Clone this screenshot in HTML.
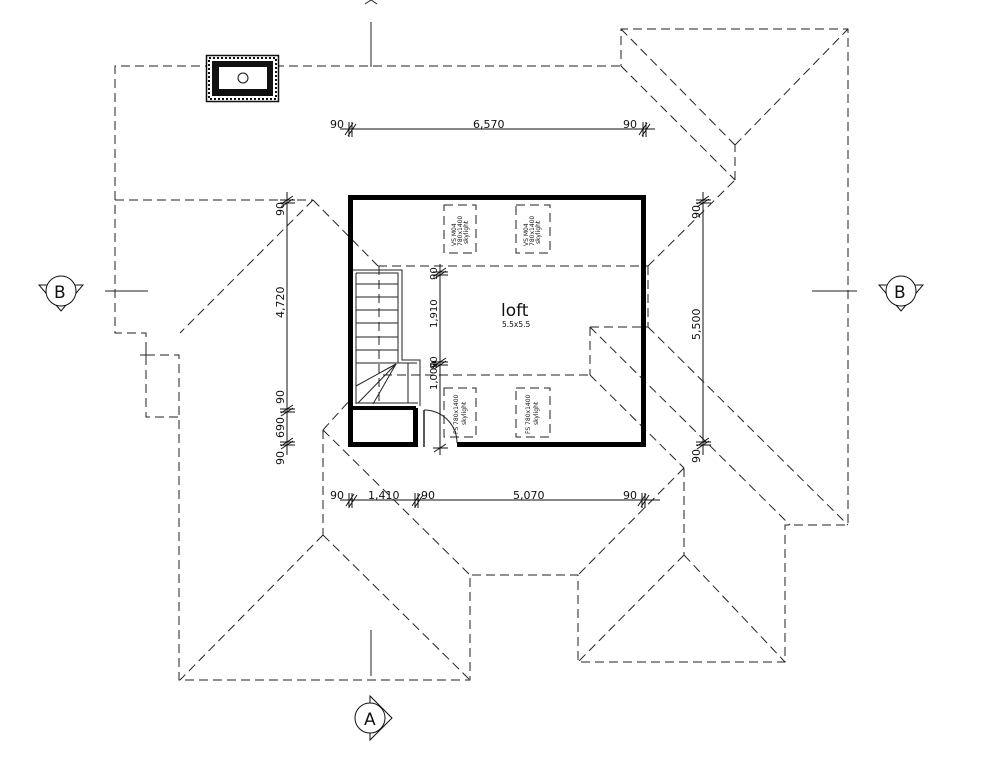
<!DOCTYPE html>
<html><head><meta charset="utf-8"><style>
html,body{margin:0;padding:0;background:#fff;}
svg{display:block;}
text{font-family:"DejaVu Sans","Liberation Sans",sans-serif;fill:#111;}
</style></head><body>
<svg width="994" height="768" viewBox="0 0 994 768" xmlns="http://www.w3.org/2000/svg">
<g fill="none" stroke="#222" stroke-width="1" stroke-dasharray="9 5">
<!-- top / left outline -->
<polyline points="620,66 115,66 115,333 146,333 146,417 179,417"/>
<polyline points="146,355 179,355 179,680 470,680 470,575 578,575 578,662 785,662 785,525 848,525 848,29 621,29 621,66"/>
<line x1="115" y1="200" x2="313" y2="200"/>
<line x1="313" y1="200" x2="180" y2="333"/>
<line x1="313" y1="200" x2="378" y2="266"/>
<line x1="378" y1="266" x2="648" y2="266"/>
<line x1="648" y1="266" x2="648" y2="327"/>
<line x1="590" y1="327" x2="648" y2="327"/>
<line x1="590" y1="327" x2="590" y2="375"/>
<line x1="383" y1="375" x2="590" y2="375"/>
<!-- right wings -->
<line x1="648" y1="266" x2="735" y2="180"/>
<line x1="735" y1="180" x2="735" y2="145"/>
<line x1="735" y1="145" x2="848" y2="29"/>
<line x1="621" y1="29" x2="735" y2="145"/>
<line x1="621" y1="66" x2="735" y2="180"/>
<line x1="648" y1="327" x2="848" y2="525"/>
<line x1="590" y1="327" x2="790" y2="525"/>
<line x1="590" y1="375" x2="684" y2="468"/>
<line x1="684" y1="468" x2="684" y2="555"/>
<line x1="684" y1="468" x2="578" y2="575"/>
<line x1="684" y1="555" x2="578" y2="662"/>
<line x1="684" y1="555" x2="785" y2="662"/>
<!-- left lower wing -->
<line x1="323" y1="430" x2="323" y2="535"/>
<line x1="323" y1="535" x2="180" y2="680"/>
<line x1="323" y1="535" x2="470" y2="680"/>
<line x1="323" y1="430" x2="470" y2="575"/>
<line x1="323" y1="430" x2="350" y2="400"/>
<!-- skylights -->
<rect x="444" y="205" width="32" height="48"/>
<rect x="516" y="205" width="34" height="48"/>
<rect x="444" y="388" width="32" height="49"/>
<rect x="516" y="388" width="34" height="49"/>
</g>
<!-- cross at 146,355 -->
<g stroke="#222" stroke-width="1">
<line x1="140" y1="355" x2="152" y2="355"/><line x1="146" y1="349" x2="146" y2="361"/>
<!-- section lines -->
<line x1="371" y1="22" x2="371" y2="67"/>
<line x1="371" y1="630" x2="371" y2="676"/>
<line x1="105" y1="291" x2="148" y2="291"/>
<line x1="812" y1="291" x2="857" y2="291"/>
<polyline points="365,4 371,0 377,4" fill="none"/>
</g>
<!-- chimney -->
<rect x="206.5" y="55.5" width="72" height="46" fill="#fff" stroke="#111" stroke-width="1.5"/>
<rect x="209" y="58" width="67" height="41" fill="none" stroke="#111" stroke-width="2" stroke-dasharray="2 2"/>
<rect x="212" y="61" width="61" height="35" fill="#111"/>
<rect x="219" y="67" width="48" height="22" fill="#fff"/>
<circle cx="243" cy="78" r="5" fill="#fff" stroke="#111"/>
<!-- loft walls -->
<g fill="#000">
<rect x="348" y="195" width="298" height="5"/>
<rect x="641" y="195" width="5" height="252"/>
<rect x="348" y="195" width="5" height="252"/>
<rect x="348" y="442" width="70" height="5"/>
<rect x="457" y="442" width="189" height="5"/>
<rect x="413" y="408" width="5" height="39"/>
<rect x="350" y="406" width="66" height="4"/>
</g>
<!-- stair -->
<g stroke="#222" stroke-width="1" fill="none">
<polyline points="353,270 402,270 402,360 420,360 420,406"/>
<polyline points="356,273 398,273 398,363 417,363"/>
<line x1="356" y1="273" x2="356" y2="404"/>
<line x1="356" y1="284" x2="398" y2="284"/>
<line x1="356" y1="297" x2="398" y2="297"/>
<line x1="356" y1="310" x2="398" y2="310"/>
<line x1="356" y1="323" x2="398" y2="323"/>
<line x1="356" y1="337" x2="398" y2="337"/>
<line x1="356" y1="350" x2="398" y2="350"/>
<line x1="356" y1="363" x2="398" y2="363"/>
<line x1="396" y1="364" x2="356" y2="386"/>
<line x1="396" y1="364" x2="358" y2="403"/>
<line x1="396" y1="364" x2="373" y2="404"/>
<line x1="356" y1="403" x2="418" y2="403"/>
<line x1="408" y1="363" x2="408" y2="403"/>
<line x1="379" y1="266" x2="379" y2="403" stroke-dasharray="9 5"/>
<!-- door -->
<line x1="424" y1="410" x2="424" y2="447" stroke-width="1.5"/>
<path d="M424,410 A33,33 0 0 1 457,443"/>
</g>
<!-- dimension lines -->
<g stroke="#111" stroke-width="1">
<line x1="340" y1="129" x2="655" y2="129"/>
<line x1="287" y1="192" x2="287" y2="455"/>
<line x1="440" y1="264" x2="440" y2="455"/>
<line x1="703" y1="192" x2="703" y2="455"/>
<line x1="340" y1="500" x2="660" y2="500"/>
</g>
<g stroke="#111" stroke-width="1">
<!-- ticks: double slash + short perpendicular -->
<path d="M345,135 L353,123 M348,136 L356,124 M349,122 V137 M352,122 V137"/>
<path d="M639,135 L647,123 M642,136 L650,124 M643,122 V137 M646,122 V137"/>
<path d="M281,204 L293,196 M281,207 L293,199 M280,200 H295 M280,203 H295"/>
<path d="M281,413 L293,405 M281,416 L293,408 M280,409 H295 M280,412 H295"/>
<path d="M281,446 L293,438 M281,449 L293,441 M280,442 H295 M280,445 H295"/>
<path d="M434,276 L446,268 M434,279 L446,271 M433,272 H448 M433,275 H448"/>
<path d="M434,366 L446,358 M434,369 L446,361 M433,362 H448 M433,365 H448"/>
<path d="M434,452 L446,444 M433,448 H448"/>
<path d="M697,204 L709,196 M697,207 L709,199 M696,200 H711 M696,203 H711"/>
<path d="M697,446 L709,438 M697,449 L709,441 M696,442 H711 M696,445 H711"/>
<path d="M346,506 L354,494 M349,507 L357,495 M349,493 V508 M352,493 V508"/>
<path d="M412,506 L420,494 M415,507 L423,495 M415,493 V508 M418,493 V508"/>
<path d="M638,506 L646,494 M641,507 L649,495 M642,493 V508 M645,493 V508"/>
</g>
<g font-size="11">
<text x="330" y="128">90</text>
<text x="473" y="128">6,570</text>
<text x="623" y="128">90</text>
<text x="330" y="499">90</text>
<text x="368" y="499">1,410</text>
<text x="421" y="499">90</text>
<text x="513" y="499">5,070</text>
<text x="623" y="499">90</text>
<text transform="translate(284,216) rotate(-90)">90</text>
<text transform="translate(284,318) rotate(-90)">4,720</text>
<text transform="translate(284,404) rotate(-90)">90</text>
<text transform="translate(284,438) rotate(-90)">690</text>
<text transform="translate(284,465) rotate(-90)">90</text>
<text transform="translate(700,219) rotate(-90)">90</text>
<text transform="translate(700,340) rotate(-90)">5,500</text>
<text transform="translate(700,463) rotate(-90)">90</text>
</g>
<g font-size="10">
<text transform="translate(437,280) rotate(-90)">90</text>
<text transform="translate(437,328) rotate(-90)">1,910</text>
<text transform="translate(437,369) rotate(-90)">90</text>
<text transform="translate(437,390) rotate(-90)">1,000</text>
</g>
<text x="501" y="316" font-size="17">loft</text>
<text x="502" y="327" font-size="7.5">5.5x5.5</text>
<g font-size="6">
<text transform="translate(456,246) rotate(-90)">VS M04</text>
<text transform="translate(462,246) rotate(-90)">780x1400</text>
<text transform="translate(468,244) rotate(-90)">skylight</text>
<text transform="translate(528,246) rotate(-90)">VS M04</text>
<text transform="translate(534,246) rotate(-90)">780x1400</text>
<text transform="translate(540,244) rotate(-90)">skylight</text>
<text transform="translate(458,434) rotate(-90)">FS 780x1400</text>
<text transform="translate(466,425) rotate(-90)">skylight</text>
<text transform="translate(530,434) rotate(-90)">FS 780x1400</text>
<text transform="translate(538,425) rotate(-90)">skylight</text>
</g>
<!-- section markers -->
<g stroke="#111" stroke-width="1" fill="#fff">
<polygon points="39,285 83,285 61,311"/>
<circle cx="61" cy="291" r="15"/>
<polygon points="879,285 923,285 901,311"/>
<circle cx="901" cy="291" r="15"/>
<polygon points="370,696 370,740 392,718"/>
<circle cx="370" cy="718" r="15"/>
</g>
<text x="54" y="298" font-size="17">B</text>
<text x="894" y="298" font-size="17">B</text>
<text x="364" y="725" font-size="17">A</text>
</svg>
</body></html>
